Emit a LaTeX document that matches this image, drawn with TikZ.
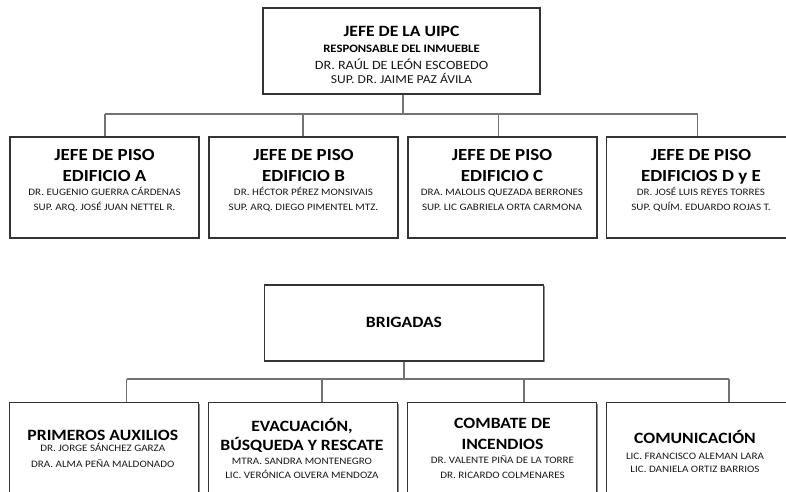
\documentclass[tikz,border=0pt]{standalone}
\usepackage{fontspec}
\setmainfont{Carlito}[FakeStretch=1.12]
\usetikzlibrary{shadows}
\tikzset{
  box/.style={draw=black!80, line width=0.9pt, fill=white, inner sep=0pt,
    drop shadow={shadow xshift=1.1pt, shadow yshift=-1.1pt, fill=black!45, opacity=1}},
  conn/.style={draw=black!55, line width=1.1pt},
  ttl/.style={font=\fontsize{11.8}{14}\selectfont\bfseries, anchor=base, inner sep=0pt},
  ttlb/.style={font=\fontsize{12.7}{15}\selectfont\bfseries, anchor=base, inner sep=0pt},
  sub/.style={font=\fontsize{8.5}{10}\selectfont\bfseries, anchor=base, inner sep=0pt},
  nm/.style={font=\fontsize{7.4}{9}\selectfont, text=black!90, anchor=base, inner sep=0pt},
}
\begin{document}
\begin{tikzpicture}[x=0.75pt,y=-0.75pt]
\useasboundingbox (0,0) rectangle (786,492);
\begin{scope}
\clip (0,0) rectangle (786,492);
% top box
\node[box, minimum width=277*0.75pt, minimum height=86*0.75pt] (top) at (401.5,51) {};
\node[ttl] (t1) at (401.5,37) {JEFE DE LA UIPC};
\node[sub] (t2) at (401.5,53) {RESPONSABLE DEL INMUEBLE};
\node[nm, font=\fontsize{9.5}{11}\selectfont] (t3) at (401.5,70) {DR. RAÚL DE LEÓN ESCOBEDO};
\node[nm, font=\fontsize{9.1}{11}\selectfont] (t4) at (401.5,84) {SUP. DR. JAIME PAZ ÁVILA};
% row 1 boxes
\foreach \n/\cx in {a1/104.5,a2/303.5,a3/502.5,a4/701}{
  \node[box, minimum width=189*0.75pt, minimum height=101*0.75pt] (\n) at (\cx,187.5) {};
}
\node[ttlb] (a1t1) at (104.5,160.7) {JEFE DE PISO};
\node[ttlb] (a1t2) at (104.5,181.7) {EDIFICIO A};
\node[nm]  (a1n1) at (104.5,195.7) {DR. EUGENIO GUERRA CÁRDENAS};
\node[nm]  (a1n2) at (104.5,210) {SUP. ARQ. JOSÉ JUAN NETTEL R.};
\node[ttlb] (a2t1) at (303.5,160.7) {JEFE DE PISO};
\node[ttlb] (a2t2) at (303.5,181.7) {EDIFICIO B};
\node[nm]  (a2n1) at (303.5,195.7) {DR. HÉCTOR PÉREZ MONSIVAIS};
\node[nm]  (a2n2) at (303.5,210) {SUP. ARQ. DIEGO PIMENTEL MTZ.};
\node[ttlb] (a3t1) at (502,160.7) {JEFE DE PISO};
\node[ttlb] (a3t2) at (502,181.7) {EDIFICIO C};
\node[nm]  (a3n1) at (502,195.7) {DRA. MALOLIS QUEZADA BERRONES};
\node[nm]  (a3n2) at (502,210) {SUP. LIC GABRIELA ORTA CARMONA};
\node[ttlb] (a4t1) at (701,160.7) {JEFE DE PISO};
\node[ttlb] (a4t2) at (701,181.7) {EDIFICIOS D y E};
\node[nm]  (a4n1) at (701,195.7) {DR. JOSÉ LUIS REYES TORRES};
\node[nm]  (a4n2) at (701,210) {SUP. QUÍM. EDUARDO ROJAS T.};
% connectors row 1
\coordinate (bus1) at (403,114);
\coordinate (bl1) at (105,114);
\coordinate (br1) at (697.7,114);
\draw[conn] (top.south -| bus1) -- (bus1);
\draw[conn] (bl1) -- (br1);
\foreach \n/\x in {a1/105,a2/303,a3/498.7,a4/697.7}{
  \coordinate (d\n) at (\x,114);
  \draw[conn] (d\n) -- (d\n |- \n.north);
}
% brigadas
\node[box, minimum width=279*0.75pt, minimum height=76*0.75pt] (brig) at (404.3,323) {};
\node[ttl] (bt) at (404,327.3) {BRIGADAS};
% row 2 boxes
\foreach \n/\l in {b1/9,b2/208,b3/406.7,b4/606}{
  \node[box, anchor=north west, minimum width=189*0.75pt, minimum height=100*0.75pt] (\n) at (\l,402) {};
}
\node[ttl] (b1t1) at (102.8,440) {PRIMEROS AUXILIOS};
\node[nm]  (b1n1) at (102.8,451.7) {DR. JORGE SÁNCHEZ GARZA};
\node[nm]  (b1n2) at (102.8,467) {DRA. ALMA PEÑA MALDONADO};
\node[ttl] (b2t1) at (302,431.7) {EVACUACIÓN,};
\node[ttl] (b2t2) at (302,450) {BÚSQUEDA Y RESCATE};
\node[nm]  (b2n1) at (302,464) {MTRA. SANDRA MONTENEGRO};
\node[nm]  (b2n2) at (302,478.3) {LIC. VERÓNICA OLVERA MENDOZA};
\node[ttl] (b3t1) at (502.5,428.3) {COMBATE DE};
\node[ttl] (b3t2) at (502.5,449) {INCENDIOS};
\node[nm]  (b3n1) at (502.5,463.3) {DR. VALENTE PIÑA DE LA TORRE};
\node[nm]  (b3n2) at (502.5,478.3) {DR. RICARDO COLMENARES};
\node[ttl] (b4t1) at (695,443.3) {COMUNICACIÓN};
\node[nm]  (b4n1) at (695,459.3) {LIC. FRANCISCO ALEMAN LARA};
\node[nm]  (b4n2) at (695,472.3) {LIC. DANIELA ORTIZ BARRIOS};
% connectors row 2
\coordinate (bus2) at (404,379);
\coordinate (bl2) at (126.7,379);
\coordinate (br2) at (729,379);
\draw[conn] (brig.south -| bus2) -- (bus2);
\draw[conn] (bl2) -- (br2);
\foreach \n/\x in {b1/126.7,b2/322,b3/524,b4/729}{
  \coordinate (e\n) at (\x,379);
  \draw[conn] (e\n) -- (e\n |- \n.north);
}
\end{scope}
\end{tikzpicture}
\end{document}
